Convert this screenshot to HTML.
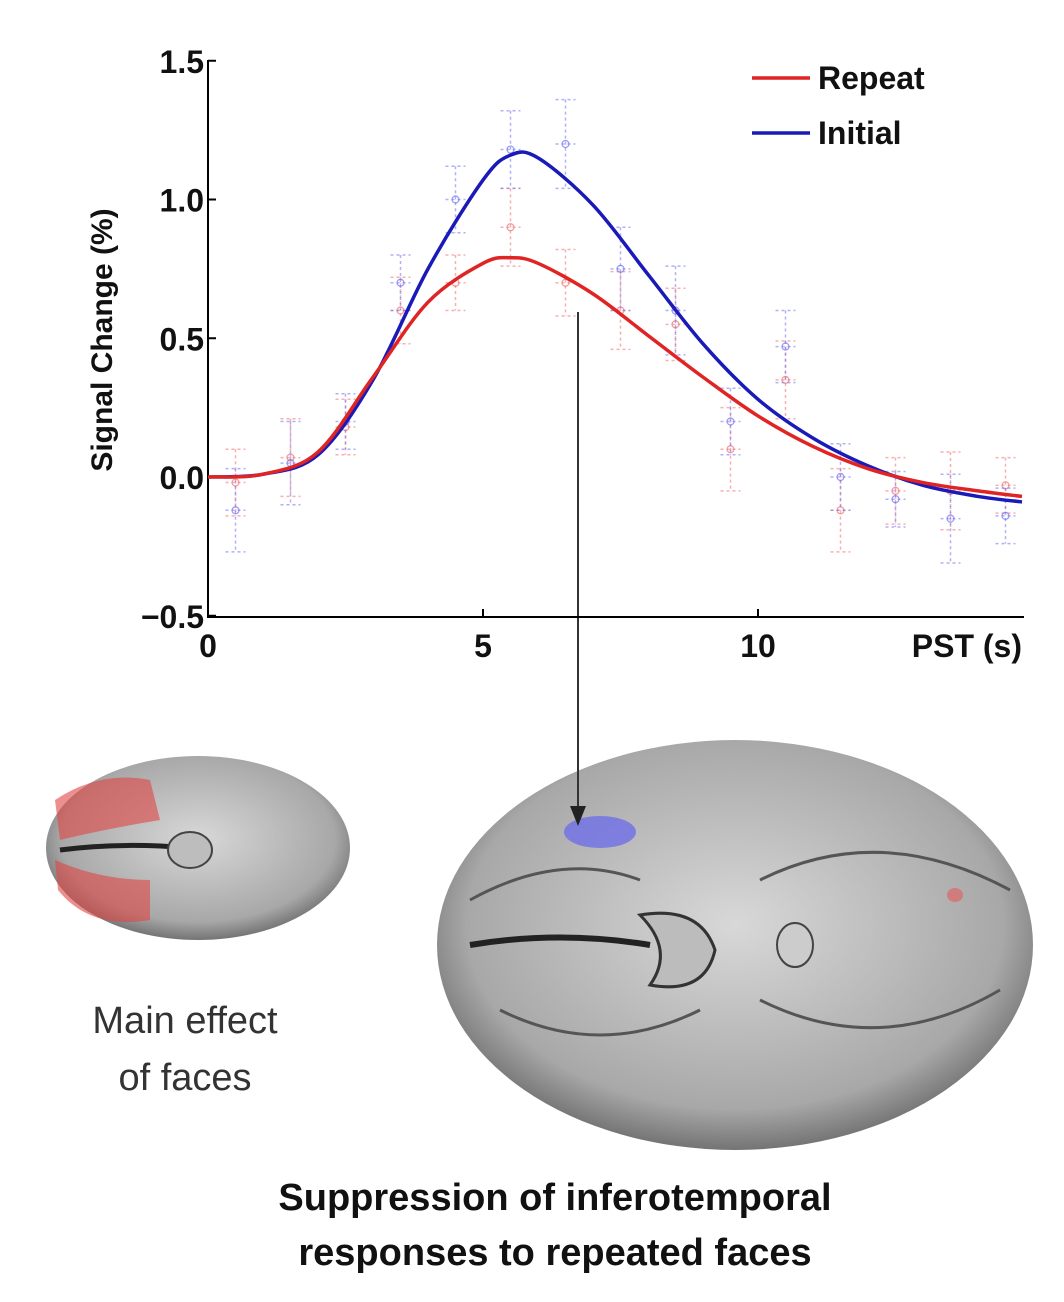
<!DOCTYPE html>
<html><head><meta charset="utf-8"><style>
body{margin:0;background:#fff;width:1064px;height:1302px;overflow:hidden;font-family:"Liberation Sans",sans-serif}
svg{position:absolute;left:0;top:0}
</style></head><body>
<svg width="1064" height="1302">
<defs>
<radialGradient id="bg1" cx="50%" cy="45%" r="60%"><stop offset="0" stop-color="#d8d8d8"/><stop offset="0.75" stop-color="#a8a8a8"/><stop offset="1" stop-color="#5a5a5a"/></radialGradient>
</defs>
<g id="brains">
 <g>
  <ellipse cx="198" cy="848" rx="152" ry="92" fill="url(#bg1)"/>
  <path d="M60 850 Q120 842 190 848" stroke="#222" stroke-width="5" fill="none"/>
  <ellipse cx="190" cy="850" rx="22" ry="18" fill="#bdbdbd" stroke="#444" stroke-width="2"/>
  <path d="M55 800 Q100 770 150 780 L160 820 Q100 830 60 840Z" fill="#d44" opacity="0.6"/>
  <path d="M55 860 Q100 880 150 880 L150 920 Q90 930 58 890Z" fill="#d44" opacity="0.6"/>
 </g>
 <g>
  <ellipse cx="735" cy="945" rx="298" ry="205" fill="url(#bg1)"/>
  <path d="M470 945 Q560 930 650 945" stroke="#222" stroke-width="6" fill="none"/>
  <path d="M640 915 Q700 905 715 950 Q705 995 650 985 Q675 950 640 915Z" fill="#bcbcbc" stroke="#333" stroke-width="3"/>
  <ellipse cx="795" cy="945" rx="18" ry="22" fill="#ccc" stroke="#444" stroke-width="2"/>
  <path d="M500 1010 Q600 1060 700 1010 M760 1000 Q880 1060 1000 990 M470 900 Q560 850 640 880 M760 880 Q880 820 1010 890" stroke="#555" stroke-width="3" fill="none"/>
  <ellipse cx="600" cy="832" rx="36" ry="16" fill="#6f6fe8" opacity="0.8"/>
  <ellipse cx="955" cy="895" rx="8" ry="7" fill="#d66" opacity="0.7"/>
 </g>
</g>
<line x1="578" y1="312" x2="578" y2="818" stroke="#333" stroke-width="2"/>
<polygon points="570,806 586,806 578,826" fill="#222"/>
<g id="chart"></g>
<text x="185" y="1033" font-size="38" fill="#333" text-anchor="middle" font-weight="300">Main effect</text>
<text x="185" y="1090" font-size="38" fill="#333" text-anchor="middle" font-weight="300">of faces</text>
<text x="555" y="1210" font-size="38" font-weight="bold" fill="#111" text-anchor="middle">Suppression of inferotemporal</text>
<text x="555" y="1265" font-size="38" font-weight="bold" fill="#111" text-anchor="middle">responses to repeated faces</text>
</svg>
<script>
const xTicks=[0,5,10];
const yTicks=[-0.5,0.0,0.5,1.0,1.5];
const yTickLabels=["\u22120.5","0.0","0.5","1.0","1.5"];
const curveT=[0,1,2,3,4,5,5.5,6,7,8,9,10,11,12,13,14,14.8];
const initialCurve=[0,0.01,0.08,0.35,0.75,1.07,1.16,1.15,0.98,0.73,0.48,0.28,0.14,0.04,-0.03,-0.07,-0.09];
const repeatCurve=[0,0.01,0.09,0.36,0.63,0.77,0.79,0.77,0.66,0.51,0.36,0.22,0.11,0.03,-0.02,-0.05,-0.07];
const pointT=[0.5,1.5,2.5,3.5,4.5,5.5,6.5,7.5,8.5,9.5,10.5,11.5,12.5,13.5,14.5];
const initialPts=[-0.12,0.05,0.2,0.7,1.0,1.18,1.2,0.75,0.6,0.2,0.47,0.0,-0.08,-0.15,-0.14];
const repeatPts=[-0.02,0.07,0.18,0.6,0.7,0.9,0.7,0.6,0.55,0.1,0.35,-0.12,-0.05,-0.05,-0.03];
const errInit=[0.15,0.15,0.1,0.1,0.12,0.14,0.16,0.15,0.16,0.12,0.13,0.12,0.1,0.16,0.1];
const errRep=[0.12,0.14,0.1,0.12,0.1,0.14,0.12,0.14,0.13,0.15,0.14,0.15,0.12,0.14,0.1];
const NS="http://www.w3.org/2000/svg";
const sx=v=>208+v*55, sy=v=>477-v*277.5;
const g=document.getElementById('chart');
function mk(tag,a){const e=document.createElementNS(NS,tag);for(const k in a)e.setAttribute(k,a[k]);g.appendChild(e);return e;}
let e=mk('line',{x1:208,y1:60,x2:208,y2:617,stroke:'#000','stroke-width':2});

e=mk('line',{x1:207,y1:617,x2:1024,y2:617,stroke:'#000','stroke-width':2});

yTicks.forEach((v,i)=>{
 e=mk('line',{x1:208,y1:sy(v),x2:216,y2:sy(v),stroke:'#000','stroke-width':2});
 
 e=mk('text',{x:204,y:sy(v)+12,'font-size':32,'font-weight':'bold','text-anchor':'end',fill:'#111'});e.textContent=yTickLabels[i];
 
});
xTicks.forEach(v=>{
 e=mk('line',{x1:sx(v),y1:617,x2:sx(v),y2:609,stroke:'#000','stroke-width':2});
 
 e=mk('text',{x:sx(v),y:657,'font-size':32,'font-weight':'bold','text-anchor':'middle',fill:'#111'});e.textContent=String(v);
 
});
e=mk('text',{x:1022,y:657,'font-size':32,'font-weight':'bold','text-anchor':'end',fill:'#111'});e.textContent='PST (s)';

e=mk('text',{x:0,y:0,'font-size':30,'font-weight':'bold','text-anchor':'middle',fill:'#111',transform:'translate(112,340) rotate(-90)'});e.textContent='Signal Change (%)';

function pts(vals,errs,col,name){
 pointT.forEach((t,i)=>{
  const x=sx(t),y=sy(vals[i]),y1=sy(vals[i]+errs[i]),y2=sy(vals[i]-errs[i]);
  e=mk('path',{d:`M${x} ${y1}V${y2}M${x-10} ${y1}H${x+10}M${x-10} ${y2}H${x+10}M${x-10} ${y}H${x+10}`,stroke:col,'stroke-width':1.5,'stroke-dasharray':'3 3',fill:'none',opacity:0.55});
  
  e=mk('circle',{cx:x,cy:y,r:3.5,fill:'none',stroke:col,'stroke-width':1.2,opacity:0.7});
  
 });
}
pts(repeatPts,errRep,'#f07070','repeat');
pts(initialPts,errInit,'#7070f0','initial');
function curve(vals,col,name){
 const P=curveT.map((t,i)=>[sx(t),sy(vals[i])]);
 let d=`M${P[0][0]} ${P[0][1]}`;
 for(let i=0;i<P.length-1;i++){
  const p0=P[Math.max(0,i-1)],p1=P[i],p2=P[i+1],p3=P[Math.min(P.length-1,i+2)];
  d+=`C${p1[0]+(p2[0]-p0[0])/6} ${p1[1]+(p2[1]-p0[1])/6} ${p2[0]-(p3[0]-p1[0])/6} ${p2[1]-(p3[1]-p1[1])/6} ${p2[0]} ${p2[1]}`;
 }
 e=mk('path',{d,stroke:col,'stroke-width':3.5,fill:'none'});
 
}
curve(initialCurve,'#1a1ab8','initial');
curve(repeatCurve,'#e02424','repeat');
[['Repeat','#e02424',78],['Initial','#1a1ab8',133]].forEach(([lab,col,y])=>{
 e=mk('line',{x1:752,y1:y,x2:810,y2:y,stroke:col,'stroke-width':3.5});
 
 e=mk('text',{x:818,y:y+11,'font-size':32,'font-weight':'bold',fill:'#111'});e.textContent=lab;
 
});
</script>
</body></html>
